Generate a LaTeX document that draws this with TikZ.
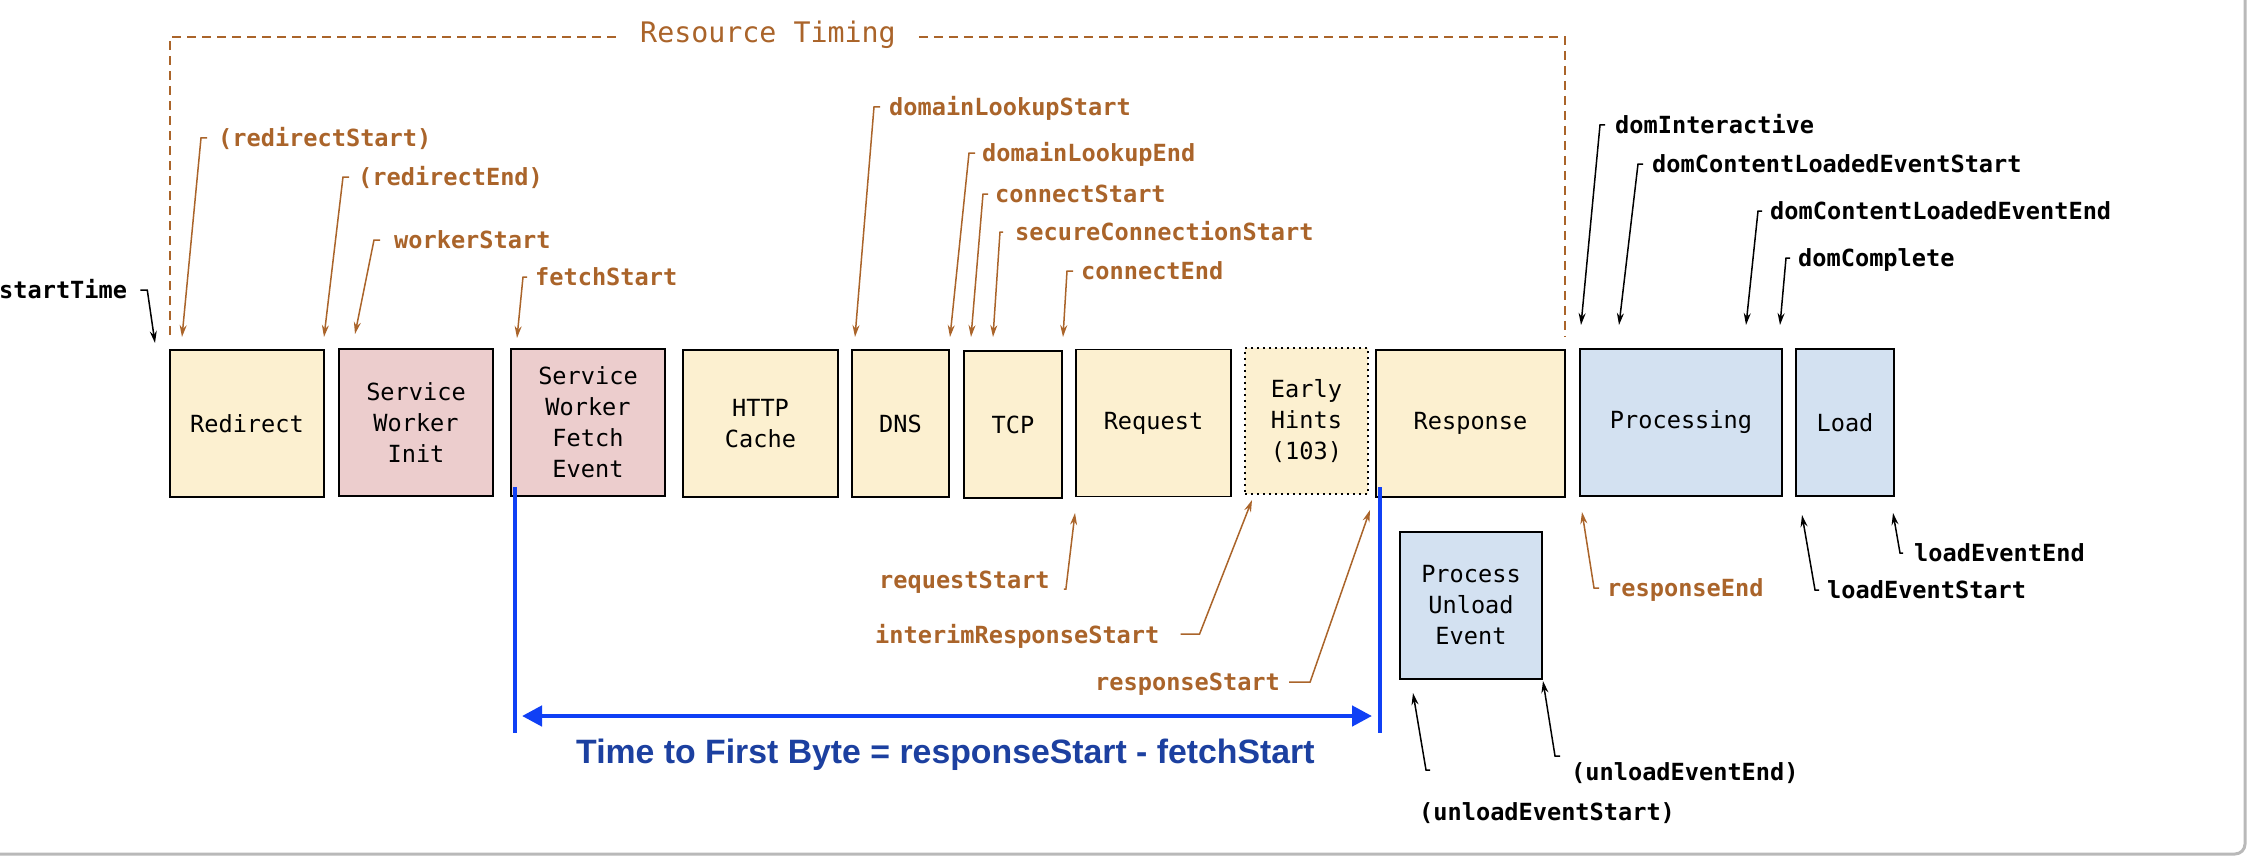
\documentclass[tikz,border=0pt]{standalone}
\usepackage{fontspec}
\usetikzlibrary{arrows.meta}
\newfontfamily\monofam{DejaVu Sans Mono}
\newfontfamily\sansfam{Liberation Sans}
\definecolor{ylw}{RGB}{252,240,208}
\definecolor{pnk}{RGB}{236,205,205}
\definecolor{blu}{RGB}{211,225,241}
\definecolor{org}{RGB}{170,100,42}
\definecolor{bline}{RGB}{16,64,245}
\definecolor{btext}{RGB}{28,64,160}
\begin{document}
\begin{tikzpicture}[x=1pt,y=-1pt,
  box/.style={draw=black, line width=1.6pt, inner sep=0pt, align=center,
    font=\monofam\fontsize{23.6}{31}\selectfont, minimum height=147pt},
  lbl/.style={font=\monofam\bfseries\fontsize{23.6}{28}\selectfont, inner sep=0pt,
    text height=17pt, text depth=0pt, anchor=west},
  olbl/.style={lbl, text=org},
  klbl/.style={lbl, text=black},
  oarr/.style={draw=org, line width=1.5pt, -{Stealth[length=12pt,width=7pt]}},
  karr/.style={draw=black, line width=1.5pt, -{Stealth[length=12pt,width=7pt]}},
  dsh/.style={draw=org, line width=2pt, dash pattern=on 9pt off 6pt},
  bl/.style={draw=bline, line width=3.5pt}
]
\useasboundingbox (0,0) rectangle (2248,856);
\fill[white] (0,0) rectangle (2248,856);
\draw[gray!55, line width=3pt, rounded corners=10pt] (2245,-10) -- (2245,854) -- (-10,854);

% boxes
\node[box, fill=ylw, minimum width=154pt] (redirect) at (247,423.5) {Redirect};
\node[box, fill=pnk, minimum width=154pt] (swinit) at (416,422.5) {Service\\Worker\\Init};
\node[box, fill=pnk, minimum width=154pt] (swfetch) at (588,422.5) {Service\\Worker\\Fetch\\Event};
\node[box, fill=ylw, minimum width=155pt] (cache) at (760.5,423.5) {HTTP\\Cache};
\node[box, fill=ylw, minimum width=97pt] (dns) at (900.5,423.5) {DNS};
\node[box, fill=ylw, minimum width=98pt] (tcp) at (1013,424.5) {TCP};
\node[box, fill=ylw, minimum width=155pt] (request) at (1153.5,423) {Request};
\node[box, fill=ylw, minimum width=123pt, minimum height=146pt, line width=2pt,
  dash pattern=on 2pt off 4pt] (early) at (1306.5,421) {Early\\Hints\\(103)};
\node[box, fill=ylw, minimum width=189pt, line width=2pt] (response) at (1470.5,423.5) {Response};
\node[box, fill=blu, minimum width=202pt] (processing) at (1681,422.5) {Processing};
\node[box, fill=blu, minimum width=98pt] (load) at (1845,422.5) {Load};
\node[box, fill=blu, minimum width=142pt] (unload) at (1471,605.5) {Process\\Unload\\Event};

% resource timing bracket
\node[font=\monofam\fontsize{28.3}{34}\selectfont, text=org, inner xsep=23pt, inner ysep=0pt,
  text height=20pt, text depth=0pt] (rt) at (768,33) {Resource Timing};
\coordinate (bkl) at (170,335);
\coordinate (tkl) at (170,37);
\coordinate (tkr) at (1565,37);
\coordinate (bkr) at (1565,337);
\draw[dsh] (bkl) -- (tkl) -- (rt.west |- tkl);
\draw[dsh] (rt.east |- tkr) -- (tkr) -- (bkr);

% start time
\node[klbl] (st) at (-1,290) {startTime};
\coordinate (t-st) at (155,343);
\draw[karr] ([xshift=13pt]st.east) -- ++(7,0) -- (t-st);

% top labels
\node[olbl] (rds) at (218,138) {(redirectStart)};
\node[olbl] (rde) at (358,177) {(redirectEnd)};
\node[olbl] (ws) at (394,240) {workerStart};
\node[olbl] (fs) at (535,277) {fetchStart};
\node[olbl] (dls) at (889,107) {domainLookupStart};
\node[olbl] (dle) at (982,153) {domainLookupEnd};
\node[olbl] (cs) at (995,194) {connectStart};
\node[olbl] (scs) at (1015,232) {secureConnectionStart};
\node[olbl] (ce) at (1081,271) {connectEnd};
\node[klbl] (di) at (1615,125) {domInteractive};
\node[klbl] (dcs) at (1652,164) {domContentLoadedEventStart};
\node[klbl] (dce) at (1770,211) {domContentLoadedEventEnd};
\node[klbl] (dc) at (1798,258) {domComplete};

\coordinate (t-rds) at (182,337);
\coordinate (t-rde) at (324,337);
\coordinate (t-ws) at (355,334);
\coordinate (t-fs) at (517,338);
\coordinate (t-dls) at (855,337);
\coordinate (t-dle) at (950,337);
\coordinate (t-cs) at (971,337);
\coordinate (t-scs) at (993,337);
\coordinate (t-ce) at (1063,337);
\coordinate (t-di) at (1581,325);
\coordinate (t-dcs) at (1619,325);
\coordinate (t-dce) at (1746,325);
\coordinate (t-dc) at (1780,325);

\draw[oarr] ([xshift=-11pt]rds.west) -- ++(-6,0) -- (t-rds);
\draw[oarr] ([xshift=-9pt]rde.west) -- ++(-6,0) -- (t-rde);
\draw[oarr] ([xshift=-14pt]ws.west) -- ++(-6,0) -- (t-ws);
\draw[oarr] ([xshift=-8pt]fs.west) -- ++(-4,0) -- (t-fs);
\draw[oarr] ([xshift=-9pt]dls.west) -- ++(-6,0) -- (t-dls);
\draw[oarr] ([xshift=-7pt]dle.west) -- ++(-6,0) -- (t-dle);
\draw[oarr] ([xshift=-7pt]cs.west) -- ++(-5,0) -- (t-cs);
\draw[oarr] ([xshift=-12pt]scs.west) -- ++(-3,0) -- (t-scs);
\draw[oarr] ([xshift=-8pt]ce.west) -- ++(-6,0) -- (t-ce);
\draw[karr] ([xshift=-10pt]di.west) -- ++(-5,0) -- (t-di);
\draw[karr] ([xshift=-9pt]dcs.west) -- ++(-5,0) -- (t-dcs);
\draw[karr] ([xshift=-8pt]dce.west) -- ++(-4,0) -- (t-dce);
\draw[karr] ([xshift=-8pt]dc.west) -- ++(-4,0) -- (t-dc);

% bottom labels
\node[olbl] (rqs) at (879,580) {requestStart};
\node[olbl] (irs) at (875,635) {interimResponseStart};
\node[olbl] (rss) at (1095,682) {responseStart};
\node[olbl] (ree) at (1607,588) {responseEnd};
\node[klbl] (les) at (1827,590) {loadEventStart};
\node[klbl] (lee) at (1914,553) {loadEventEnd};
\node[klbl] (uee) at (1571,772) {(unloadEventEnd)};
\node[klbl] (ues) at (1419,812) {(unloadEventStart)};

\coordinate (t-rqs) at (1075,513);
\coordinate (t-irs) at (1252,500);
\coordinate (t-rss) at (1370,510);
\coordinate (t-ree) at (1582,512);
\coordinate (t-les) at (1802,515);
\coordinate (t-lee) at (1893,513);
\coordinate (t-uee) at (1543,681);
\coordinate (t-ues) at (1413,693);

\draw[oarr] ([shift={(14,9)}]rqs.east) -- ++(2,0) -- (t-rqs);
\draw[oarr] ([shift={(21,-1)}]irs.east) -- ++(19,0) -- (t-irs);
\draw[oarr] ([xshift=9pt]rss.east) -- ++(21,0) -- (t-rss);
\draw[oarr] ([xshift=-8pt]ree.west) -- ++(-5,0) -- (t-ree);
\draw[karr] ([xshift=-8pt]les.west) -- ++(-4,0) -- (t-les);
\draw[karr] ([xshift=-11pt]lee.west) -- ++(-3,0) -- (t-lee);
\draw[karr] ([shift={(-11,-16)}]uee.west) -- ++(-5,0) -- (t-uee);
\draw[karr] ([shift={(11,-42)}]ues.west) -- ++(-4,0) -- (t-ues);

% time to first byte
\coordinate (vl1) at (515,487);
\coordinate (vl2) at (515,733);
\coordinate (vr1) at (1380,487);
\coordinate (vr2) at (1380,733);
\draw[bl] (vl1) -- (vl2);
\draw[bl] (vr1) -- (vr2);
\coordinate (al) at (522,716);
\coordinate (ar) at (1372,716);
\draw[draw=bline, line width=4.5pt,
  {Triangle[length=20pt,width=20pt]}-{Triangle[length=20pt,width=20pt]}] (al) -- (ar);
\node[font=\sansfam\bfseries\fontsize{33.8}{40}\selectfont, text=btext, anchor=base west,
  inner sep=0pt] (ttfb) at (576,763) {Time to First Byte = responseStart - fetchStart};
\end{tikzpicture}
\end{document}
